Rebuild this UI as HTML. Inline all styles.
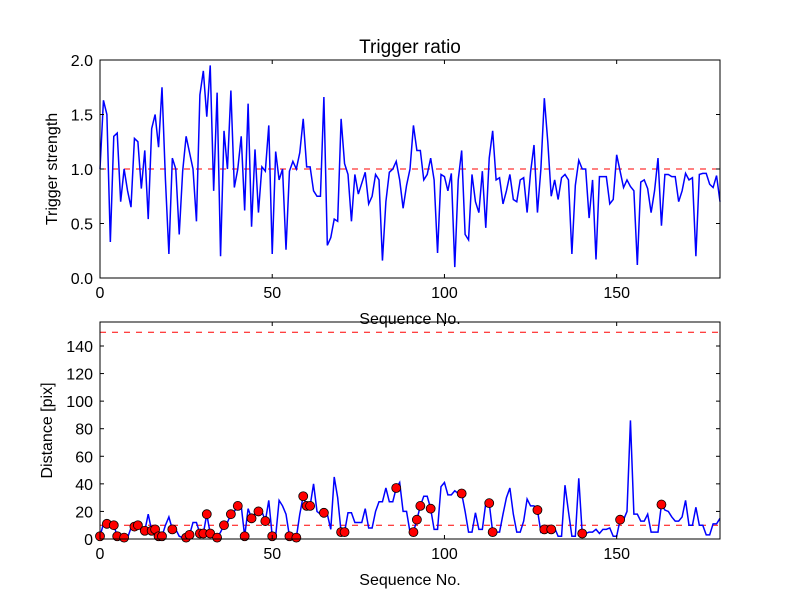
<!DOCTYPE html>
<html><head><meta charset="utf-8"><style>
body{margin:0;background:#fff}
svg{display:block;font-family:"Liberation Sans","DejaVu Sans",sans-serif}
</style></head><body>
<svg id="chart" width="800" height="600" viewBox="0 0 800 600" xmlns="http://www.w3.org/2000/svg"></svg>
<script>
const ratioValues=[1.0,1.63,1.5,0.33,1.3,1.33,0.7,1.0,0.8,0.65,1.28,1.25,0.82,1.17,0.54,1.37,1.5,1.2,1.75,0.9,0.22,1.1,1.0,0.4,0.98,1.3,1.15,1.0,0.52,1.68,1.9,1.48,1.95,0.8,1.7,0.2,1.35,1.0,1.72,0.83,1.0,1.3,0.62,1.6,0.47,1.18,0.6,1.02,0.98,1.4,0.22,1.16,0.9,1.0,0.26,0.98,1.07,1.0,1.15,1.46,1.02,1.02,0.8,0.75,0.75,1.66,0.3,0.37,0.54,0.52,1.46,1.05,0.95,0.52,0.95,0.77,0.87,0.97,0.68,0.75,0.95,0.9,0.16,0.7,0.97,1.0,1.07,0.9,0.64,0.85,1.0,1.4,1.17,1.17,0.9,0.95,1.1,0.9,0.23,0.95,0.93,0.8,0.96,0.1,0.9,1.17,0.4,0.35,0.95,0.7,0.6,0.98,0.46,1.1,1.35,0.9,0.92,0.68,0.8,0.95,0.72,0.7,0.9,0.92,0.6,0.97,1.22,0.6,1.0,1.65,1.25,0.75,0.9,0.72,0.92,0.95,0.9,0.22,0.85,1.08,1.0,1.0,0.55,0.9,0.17,0.93,0.93,0.93,0.68,0.72,1.13,0.98,0.83,0.9,0.84,0.8,0.12,0.88,0.9,0.82,0.6,0.8,1.1,0.48,0.95,0.95,0.93,0.93,0.7,0.8,0.96,0.9,0.92,0.2,0.95,0.96,0.96,0.86,0.83,0.94,0.7];
const distValues=[2,11,11,10,10,2,2,1,1,8,9,10,6,6,18,6,7,2,2,10,16,7,7,2,1,1,3,12,12,4,4,18,4,4,1,5,10,12,18,20,24,24,2,22,15,18,20,20,13,28,2,2,28,24,18,2,2,1,18,31,24,24,40,20,18,19,18,7,45,30,5,5,19,19,12,12,12,22,8,8,20,27,27,37,27,27,37,41,20,20,5,5,14,24,31,31,22,7,7,38,41,32,32,35,33,33,20,5,5,19,7,7,26,26,5,5,5,18,30,37,18,5,5,13,29,24,24,21,5,7,7,7,8,2,2,39,20,2,2,44,4,4,5,5,7,4,7,7,8,2,2,14,14,20,86,18,18,13,13,18,5,5,5,25,21,20,16,13,13,16,28,10,10,23,10,10,3,3,11,11,15];
const markerSeq=[0,2,4,5,7,10,11,13,15,16,17,18,21,25,26,29,30,31,32,34,36,38,40,42,44,46,48,50,55,57,59,60,61,65,70,71,86,91,92,93,96,105,113,114,127,129,131,140,151,163];
const xTicks=[0,50,100,150];
const ratioTicks=[0.0,0.5,1.0,1.5,2.0];
const distTicks=[0,20,40,60,80,100,120,140];
const ratioThreshold=1.0, distThresholds=[10,150];

const NS="http://www.w3.org/2000/svg", svg=document.getElementById('chart');
function mk(t,a,p){const e=document.createElementNS(NS,t);for(const k in a)e.setAttribute(k,a[k]);(p||svg).appendChild(e);return e;}
const L=100,R=720;
const X=v=>L+v*(R-L)/180;
const Y1=v=>278-v*(278-60)/2;
const Y2=v=>539-v*(539-322)/157.4;

function axes(top,bot,Yf,yt,fmt,ylabel,name){
  const g=mk('g',{});
  
  
  xTicks.forEach(t=>{const x=X(t);
    mk('line',{x1:x,x2:x,y1:bot,y2:bot-4,stroke:'#000'},g);mk('line',{x1:x,x2:x,y1:top,y2:top+4,stroke:'#000'},g);
    const tx=mk('text',{x:x,y:bot+20,'text-anchor':'middle','font-size':16},g);tx.textContent=t;
    
    });
  yt.forEach(t=>{const y=Yf(t);
    mk('line',{x1:L,x2:L+4,y1:y,y2:y,stroke:'#000'},g);mk('line',{x1:R,x2:R-4,y1:y,y2:y,stroke:'#000'},g);
    const tx=mk('text',{x:L-7,y:y+6,'text-anchor':'end','font-size':16},g);tx.textContent=fmt(t);
    
    });
  const xl=mk('text',{x:410,y:bot+46,'text-anchor':'middle','font-size':16},g);xl.textContent='Sequence No.';
  
  
  const cy=(top+bot)/2;
  const yl=mk('text',{x:0,y:0,'text-anchor':'middle','font-size':16,transform:`translate(${name==='top-axes'?57:52},${cy}) rotate(-90)`},g);yl.textContent=ylabel;
  
  
  return g;
}
// top panel
const ti=mk('text',{x:410,y:53,'text-anchor':'middle','font-size':19});ti.textContent='Trigger ratio';


const th1=mk('line',{x1:L,x2:R,y1:Y1(ratioThreshold),y2:Y1(ratioThreshold),stroke:'#f00','stroke-dasharray':'6,6'});


const l1=mk('polyline',{points:ratioValues.map((v,i)=>X(i)+','+Y1(v)).join(' '),fill:'none',stroke:'#00f','stroke-width':1.5});


axes(60,278,Y1,ratioTicks,t=>t.toFixed(1),'Trigger strength','top-axes');
mk('rect',{x:L,y:60,width:R-L,height:218,fill:'none',stroke:'#000'});
// bottom panel
distThresholds.forEach(v=>{const t=mk('line',{x1:L,x2:R,y1:Y2(v),y2:Y2(v),stroke:'#f00','stroke-dasharray':'6,6'});
  
  });
const l2=mk('polyline',{points:distValues.map((v,i)=>X(i)+','+Y2(v)).join(' '),fill:'none',stroke:'#00f','stroke-width':1.5});


markerSeq.forEach(i=>{const c=mk('circle',{cx:X(i),cy:Y2(distValues[i]),r:4.5,fill:'#f00',stroke:'#000','stroke-width':0.8});
  
  });
axes(322,539,Y2,distTicks,t=>t,'Distance [pix]','bottom-axes');
mk('rect',{x:L,y:322,width:R-L,height:217,fill:'none',stroke:'#000'});
</script>
</body></html>
